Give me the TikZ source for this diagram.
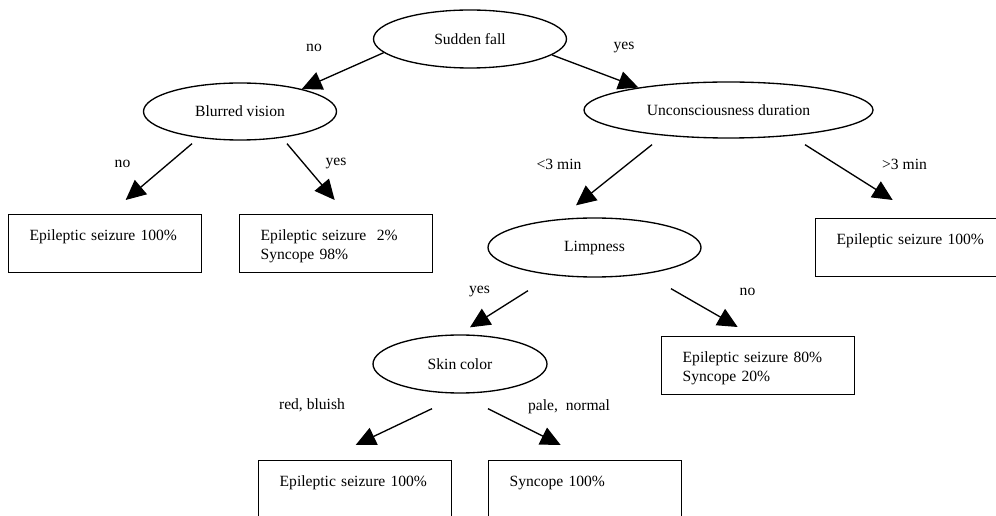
\documentclass[tikz,border=0pt]{standalone}
\usepackage{fontspec}
\setmainfont{Liberation Serif}
\usetikzlibrary{arrows.meta, shapes.geometric}

\begin{document}
\begin{tikzpicture}[x=0.75pt, y=-0.75pt,
    font=\fontsize{11.7}{14.3}\selectfont,
    test/.style={draw, ellipse, line width=1pt, inner sep=0pt},
    leaf/.style={draw, rectangle, line width=1pt, anchor=north west, align=left,
      text width=113.25pt, inner xsep=15.75pt, inner ysep=9.25pt,
      text height=10.25pt, text depth=14.75pt},
    arr/.style={-{Triangle[length=15pt, width=14pt]}, line width=1pt},
    lbl/.style={inner sep=0pt}]
    \useasboundingbox (0,0) rectangle (996,516);
    \clip (0,0) rectangle (996,516);

    \node[test, minimum width=144.75pt, minimum height=43.5pt] (fall) at (470,39) {Sudden fall};
    \node[test, minimum width=144.75pt, minimum height=42.75pt] (blurred) at (240,111.5) {Blurred vision};
    \node[test, minimum width=216.75pt, minimum height=42pt] (unconsc) at (728.5,110) {Unconsciousness duration};
    \node[test, minimum width=159.75pt, minimum height=44.25pt] (limp) at (594.5,247.5) {Limpness};
    \node[test, minimum width=130.5pt, minimum height=43.5pt] (skin) at (460,364) {Skin color};

    \node[leaf] (seizure1) at (8,214) {Epileptic seizure 100\%};
    \node[leaf] (mixed1) at (239,214) {Epileptic seizure\ \ 2\%\\Syncope 98\%};
    \node[leaf] (seizure2) at (815,218) {Epileptic seizure 100\%};
    \node[leaf] (mixed2) at (661,336) {Epileptic seizure 80\%\\Syncope 20\%};
    \node[leaf] (seizure3) at (258,460) {Epileptic seizure 100\%};
    \node[leaf] (syncope) at (488,460) {Syncope 100\%};

    \draw[arr] (fall.189) -- (blurred.20);
    \draw[arr] (fall.349) -- (unconsc.166);
    \draw[arr] ([shift={(-48,3)}]blurred.south) -- ([shift={(20.5,-14)}]seizure1.north);
    \draw[arr] ([shift={(47,3)}]blurred.south) -- ([shift={(-1.5,-14)}]mixed1.north);
    \draw[arr] ([shift={(-76.5,6)}]unconsc.south) -- ([shift={(-18.5,-12)}]limp.north);
    \draw[arr] ([shift={(76.5,6)}]unconsc.south) -- ([shift={(-19.5,-18)}]seizure2.north);
    \draw[arr] ([shift={(-66.5,13)}]limp.south) -- ([shift={(10,-7)}]skin.north);
    \draw[arr] ([shift={(76.5,11)}]limp.south) -- ([shift={(-20.5,-9)}]mixed2.north);
    \draw[arr] ([shift={(-28,15)}]skin.south) -- ([shift={(0.5,-15)}]seizure3.north);
    \draw[arr] ([shift={(28,15)}]skin.south) -- ([shift={(-24.5,-15)}]syncope.north);

    \node[lbl] (fallNo) at (314,48) {no};
    \node[lbl] (fallYes) at (624,48) {yes};
    \node[lbl] (blurNo) at (122.5,164) {no};
    \node[lbl] (blurYes) at (336,164) {yes};
    \node[lbl] (durShort) at (559,164) {<3 min};
    \node[lbl] (durLong) at (904.5,164) {>3 min};
    \node[lbl] (limpYes) at (479.5,292) {yes};
    \node[lbl] (limpNo) at (747.5,292) {no};
    \node[lbl] (skinRed) at (312,405) {red, bluish};
    \node[lbl] (skinPale) at (569,407) {pale,\ \ normal};
\end{tikzpicture}
\end{document}
